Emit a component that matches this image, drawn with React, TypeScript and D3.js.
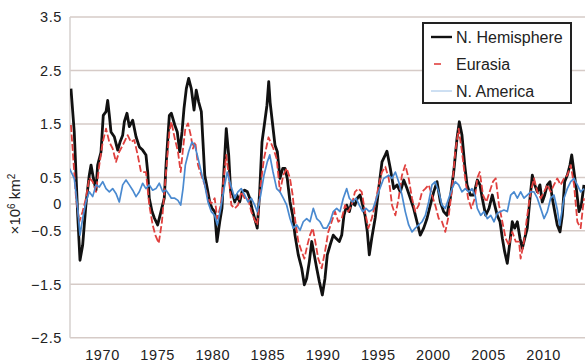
import * as d3 from "d3";

type Pt = [number, number];

const nHemisphere: Pt[] = [
  [1967.14, 2.16], [1967.44, 1.35], [1967.75, -0.2], [1967.96, -1.05], [1968.2, -0.77],
  [1968.5, 0.0], [1968.8, 0.54], [1968.96, 0.73], [1969.17, 0.49], [1969.41, 0.26],
  [1969.56, 0.73], [1969.86, 0.97], [1970.07, 1.66], [1970.32, 1.73], [1970.47, 1.94],
  [1970.62, 1.66], [1970.77, 1.35], [1971.07, 1.26], [1971.38, 1.01], [1971.59, 1.16],
  [1971.83, 1.29], [1971.98, 1.54], [1972.22, 1.7], [1972.43, 1.45], [1972.74, 1.57],
  [1973.04, 1.26], [1973.34, 1.07], [1973.64, 1.01], [1973.94, 0.92], [1974.1, 0.6],
  [1974.24, 0.11], [1974.49, -0.14], [1974.7, -0.26], [1975.0, -0.39], [1975.3, -0.14],
  [1975.6, 0.11], [1975.76, 0.73], [1976.06, 1.66], [1976.24, 1.7], [1976.55, 1.48],
  [1976.78, 1.35], [1977.0, 0.98], [1977.21, 1.35], [1977.39, 1.79], [1977.6, 2.16],
  [1977.81, 2.35], [1978.05, 2.16], [1978.3, 1.76], [1978.5, 2.13], [1978.72, 1.91],
  [1978.96, 1.73], [1979.11, 1.16], [1979.27, 0.54], [1979.5, 0.29], [1979.72, 0.04],
  [1979.93, -0.08], [1980.17, -0.14], [1980.38, -0.7], [1980.63, -0.33], [1980.83, -0.08],
  [1981.02, 0.67], [1981.22, 1.41], [1981.44, 0.92], [1981.62, 0.23], [1981.83, 0.17],
  [1981.99, 0.04], [1982.19, 0.17], [1982.44, 0.04], [1982.65, 0.23], [1982.89, 0.26],
  [1983.13, 0.23], [1983.35, 0.11], [1983.55, -0.08], [1983.8, -0.27], [1984.03, -0.45],
  [1984.25, 0.23], [1984.46, 1.16], [1984.71, 1.54], [1984.91, 1.85], [1985.07, 2.29],
  [1985.2, 1.9], [1985.43, 1.48], [1985.64, 1.1], [1985.85, 0.98], [1986.09, 0.48],
  [1986.34, 0.67], [1986.55, 0.67], [1986.75, 0.48], [1987.0, 0.04], [1987.24, -0.21],
  [1987.45, -0.58], [1987.75, -0.95], [1988.06, -1.2], [1988.3, -1.51], [1988.51, -1.39],
  [1988.75, -1.08], [1988.97, -0.7], [1989.2, -0.95], [1989.42, -1.2], [1989.66, -1.45],
  [1989.93, -1.7], [1990.17, -1.39], [1990.38, -0.95], [1990.63, -0.77], [1990.92, -0.58],
  [1991.17, -0.64], [1991.47, -0.7], [1991.69, -0.58], [1991.89, -0.21], [1992.14, -0.02],
  [1992.38, -0.14], [1992.59, 0.04], [1992.89, -0.02], [1993.1, 0.11], [1993.35, 0.17],
  [1993.59, -0.02], [1993.8, -0.21], [1994.01, -0.52], [1994.19, -0.95], [1994.41, -0.64],
  [1994.73, -0.25], [1995.04, 0.29], [1995.34, 0.79], [1995.64, 0.92], [1995.79, 0.99],
  [1996.09, 0.67], [1996.4, 0.29], [1996.7, 0.36], [1997.0, 0.23], [1997.31, 0.45],
  [1997.61, 0.29], [1997.91, 0.11], [1998.21, -0.08], [1998.51, -0.33], [1998.81, -0.58],
  [1999.12, -0.45], [1999.42, -0.27], [1999.72, -0.02], [2000.03, 0.23], [2000.33, 0.42],
  [2000.63, 0.04], [2000.93, -0.14], [2001.23, -0.21], [2001.53, 0.11], [2001.84, 0.6],
  [2002.14, 1.23], [2002.35, 1.54], [2002.59, 1.29], [2002.84, 0.73], [2003.05, 0.36],
  [2003.35, 0.17], [2003.65, 0.17], [2003.98, 0.45], [2004.22, 0.36], [2004.43, 0.11],
  [2004.74, -0.21], [2005.04, -0.08], [2005.34, 0.17], [2005.56, -0.02], [2005.79, -0.21],
  [2006.04, -0.33], [2006.25, -0.64], [2006.46, -0.89], [2006.7, -1.11], [2006.94, -0.7],
  [2007.15, -0.33], [2007.37, -0.45], [2007.61, -0.33], [2007.85, -0.64], [2008.06, -0.83],
  [2008.28, -0.64], [2008.51, -0.45], [2008.76, 0.11], [2008.97, 0.54], [2009.18, 0.36],
  [2009.42, 0.23], [2009.66, 0.36], [2009.87, 0.04], [2010.09, 0.17], [2010.33, 0.36],
  [2010.57, 0.42], [2010.78, 0.11], [2011.0, -0.14], [2011.23, -0.39], [2011.48, -0.52],
  [2011.69, -0.21], [2011.9, 0.42], [2012.14, 0.54], [2012.38, 0.73], [2012.54, 0.92],
  [2012.75, 0.6], [2012.99, 0.23], [2013.2, -0.14], [2013.41, -0.02], [2013.65, 0.36],
];

const eurasia: Pt[] = [
  [1967.14, 1.48], [1967.6, 0.11], [1967.9, -0.33], [1968.2, -0.14], [1968.5, 0.11],
  [1968.8, 0.49], [1969.11, 0.42], [1969.41, 0.23], [1969.71, 0.73], [1970.02, 1.16],
  [1970.32, 1.41], [1970.62, 1.16], [1970.92, 1.04], [1971.22, 0.79], [1971.52, 0.98],
  [1971.83, 1.1], [1972.28, 1.29], [1972.58, 1.16], [1972.88, 1.2], [1973.19, 0.92],
  [1973.49, 0.6], [1973.94, 0.6], [1974.24, -0.02], [1974.55, -0.39], [1974.79, -0.58],
  [1975.1, -0.73], [1975.39, -0.33], [1975.69, 0.42], [1976.06, 1.35], [1976.24, 1.54],
  [1976.55, 1.23], [1976.84, 0.98], [1977.09, 0.6], [1977.3, 1.04], [1977.51, 1.41],
  [1977.75, 1.51], [1978.0, 1.29], [1978.2, 1.04], [1978.41, 1.16], [1978.66, 0.73],
  [1978.96, 0.54], [1979.27, 0.36], [1979.56, 0.11], [1979.86, 0.01], [1980.17, 0.11],
  [1980.41, -0.27], [1980.72, -0.02], [1981.02, 0.54], [1981.22, 0.92], [1981.44, 0.54],
  [1981.68, -0.02], [1981.99, -0.08], [1982.28, -0.02], [1982.58, 0.23], [1982.89, 0.11],
  [1983.19, 0.11], [1983.49, -0.14], [1983.8, -0.3], [1984.03, -0.39], [1984.34, 0.36],
  [1984.64, 0.85], [1985.05, 1.25], [1985.49, 1.04], [1985.79, 0.85], [1986.09, 0.23],
  [1986.39, 0.54], [1986.7, 0.67], [1987.0, 0.48], [1987.24, 0.17], [1987.45, -0.27],
  [1987.75, -0.7], [1988.06, -0.89], [1988.3, -1.02], [1988.57, -0.77], [1988.81, -0.58],
  [1989.06, -0.45], [1989.29, -0.7], [1989.56, -1.02], [1989.87, -1.2], [1990.17, -0.89],
  [1990.47, -0.52], [1990.78, -0.33], [1991.08, -0.14], [1991.38, -0.33], [1991.69, -0.27],
  [1991.99, -0.02], [1992.28, -0.14], [1992.59, -0.02], [1992.89, 0.23], [1993.19, 0.29],
  [1993.5, 0.23], [1993.8, -0.14], [1994.1, -0.45], [1994.41, -0.27], [1994.71, -0.02],
  [1995.04, 0.36], [1995.34, 0.6], [1995.64, 0.7], [1995.95, 0.48], [1996.25, -0.02],
  [1996.55, -0.21], [1996.85, 0.11], [1997.15, 0.54], [1997.45, 0.73], [1997.76, 0.48],
  [1998.06, 0.11], [1998.36, -0.14], [1998.67, -0.02], [1998.97, 0.23], [1999.27, 0.29],
  [1999.57, 0.36], [1999.87, 0.17], [2000.17, -0.02], [2000.48, -0.27], [2000.78, -0.33],
  [2001.08, -0.52], [2001.39, -0.21], [2001.69, 0.29], [2001.98, 0.98], [2002.29, 1.41],
  [2002.59, 0.98], [2002.84, 0.54], [2003.14, 0.11], [2003.44, -0.08], [2003.74, 0.1],
  [2004.0, 0.5], [2004.2, 0.6], [2004.5, 0.17], [2004.8, 0.04], [2005.1, 0.23],
  [2005.4, 0.42], [2005.65, 0.48], [2005.95, -0.02], [2006.25, -0.33], [2006.55, -0.64],
  [2006.85, -0.77], [2007.15, -0.52], [2007.46, -0.7], [2007.76, -0.7], [2007.91, -1.02],
  [2008.21, -0.7], [2008.51, -0.21], [2008.82, 0.23], [2009.12, 0.48], [2009.42, 0.23],
  [2009.73, 0.11], [2010.03, 0.23], [2010.33, 0.36], [2010.63, 0.23], [2010.93, 0.36],
  [2011.23, 0.48], [2011.54, 0.36], [2011.84, 0.48], [2012.14, 0.54], [2012.45, 0.73],
  [2012.75, 0.36], [2013.05, -0.33], [2013.35, -0.45], [2013.65, 0.11],
];

const nAmerica: Pt[] = [
  [1967.0, 0.67], [1967.44, 0.48], [1967.75, -0.08], [1967.96, -0.58], [1968.2, -0.27],
  [1968.5, 0.04], [1968.8, 0.23], [1969.11, 0.14], [1969.41, 0.36], [1969.71, 0.32],
  [1970.02, 0.42], [1970.32, 0.29], [1970.62, 0.23], [1970.92, 0.29], [1971.22, 0.2],
  [1971.52, 0.04], [1971.83, 0.36], [1972.13, 0.45], [1972.43, 0.36], [1972.74, 0.26],
  [1973.04, 0.14], [1973.34, 0.23], [1973.64, 0.39], [1973.94, 0.29], [1974.24, 0.36],
  [1974.55, 0.26], [1974.85, 0.29], [1975.15, 0.39], [1975.46, 0.23], [1975.76, 0.26],
  [1976.06, 0.17], [1976.24, 0.11], [1976.55, 0.11], [1976.84, 0.07], [1977.09, -0.02],
  [1977.3, 0.29], [1977.51, 0.73], [1977.81, 0.98], [1978.11, 1.16], [1978.36, 1.1],
  [1978.59, 0.92], [1978.81, 0.73], [1979.02, 0.54], [1979.27, 0.36], [1979.56, 0.04],
  [1979.86, -0.14], [1980.17, -0.21], [1980.41, -0.39], [1980.72, -0.08], [1981.02, 0.29],
  [1981.31, 0.6], [1981.62, 0.36], [1981.99, 0.11], [1982.28, 0.23], [1982.58, 0.29],
  [1982.89, 0.17], [1983.19, 0.04], [1983.49, 0.11], [1983.8, -0.02], [1984.03, -0.14],
  [1984.34, 0.17], [1984.64, 0.54], [1984.94, 0.79], [1985.16, 0.92], [1985.46, 0.6],
  [1985.79, 0.29], [1986.09, 0.23], [1986.39, 0.11], [1986.7, -0.02], [1987.0, -0.27],
  [1987.3, -0.45], [1987.61, -0.39], [1987.91, -0.49], [1988.2, -0.33], [1988.51, -0.27],
  [1988.81, -0.33], [1989.11, -0.08], [1989.42, -0.27], [1989.72, -0.33], [1990.02, -0.45],
  [1990.33, -0.45], [1990.63, -0.33], [1990.92, -0.14], [1991.23, -0.08], [1991.53, -0.14],
  [1991.83, 0.11], [1992.14, 0.29], [1992.38, 0.11], [1992.68, 0.04], [1992.98, 0.11],
  [1993.28, -0.02], [1993.59, -0.14], [1993.89, -0.08], [1994.19, -0.14], [1994.5, -0.1],
  [1994.73, 0.04], [1995.04, 0.23], [1995.49, 0.48], [1995.95, 0.54], [1996.25, 0.48],
  [1996.55, 0.6], [1996.85, 0.42], [1997.15, 0.17], [1997.45, -0.14], [1997.76, -0.39],
  [1998.06, -0.52], [1998.36, -0.45], [1998.67, -0.39], [1998.97, -0.33], [1999.27, -0.21],
  [1999.57, 0.04], [1999.87, 0.36], [2000.17, 0.42], [2000.48, 0.23], [2000.78, -0.02],
  [2001.08, -0.08], [2001.39, 0.11], [2001.69, 0.29], [2001.98, 0.42], [2002.29, 0.36],
  [2002.59, 0.23], [2002.89, 0.29], [2003.2, 0.23], [2003.5, 0.29], [2003.8, 0.15],
  [2003.98, -0.08], [2004.29, -0.21], [2004.59, -0.14], [2004.89, -0.27], [2005.2, -0.21],
  [2005.5, -0.33], [2005.79, -0.17], [2006.1, -0.14], [2006.4, -0.11], [2006.7, -0.14],
  [2007.01, 0.17], [2007.31, 0.23], [2007.61, 0.11], [2007.91, 0.23], [2008.21, 0.11],
  [2008.51, 0.17], [2008.82, 0.23], [2009.12, 0.23], [2009.42, 0.11], [2009.73, -0.08],
  [2010.03, -0.27], [2010.33, -0.14], [2010.63, 0.11], [2010.93, 0.17], [2011.23, -0.1],
  [2011.45, -0.4], [2011.84, 0.11], [2012.14, 0.29], [2012.45, 0.42], [2012.75, 0.48],
  [2013.05, 0.36], [2013.35, 0.23], [2013.65, 0.29],
];

const yTicks = [-2.5, -1.5, -0.5, 0, 0.5, 1.5, 2.5, 3.5];
const xTicks = [1970, 1975, 1980, 1985, 1990, 1995, 2000, 2005, 2010];
const legendItems = ["N. Hemisphere", "Eurasia", "N. America"];

const W = 585;
const H = 363;
const FONT = "'Liberation Sans', Arial, sans-serif";

export default function App() {
  const x = d3.scaleLinear().domain([1970, 2010]).range([102.5, 543.7]);
  const y = d3.scaleLinear().domain([-2.5, 3.5]).range([337.75, 17]);

  const line = d3
    .line<Pt>()
    .x((d) => x(d[0]))
    .y((d) => y(d[1]))
    .curve(d3.curveLinear);

  const x0 = 70;

  const series = [
    { data: nHemisphere, color: "#111111", width: 2.8, dash: "none" },
    { data: eurasia, color: "#e0403e", width: 1.8, dash: "7,2.5" },
    { data: nAmerica, color: "#4a8ad0", width: 1.7, dash: "none" },
  ];

  return (
    <svg
      width={W}
      height={H}
      style={{ position: "absolute", left: 0, top: 0, background: "#fff" }}
      fontFamily={FONT}
    >
      <defs>
        <clipPath id="plot">
          <rect x={x0} y={0} width={W - x0} height={H} />
        </clipPath>
      </defs>

      {/* gridlines */}
      {yTicks.map((t) => (
        <line
          key={t}
          x1={x0}
          x2={W}
          y1={y(t)}
          y2={y(t)}
          stroke="#d6cbc7"
          strokeWidth={1.5}
        />
      ))}
      <line x1={x0} x2={x0} y1={y(3.5)} y2={y(-2.5)} stroke="#d6d0ce" strokeWidth={1.5} />

      {/* y tick labels */}
      {yTicks.map((t) => (
        <text
          key={t}
          x={62}
          y={y(t)}
          dy="0.36em"
          textAnchor="end"
          fontSize={14.5}
          letterSpacing={0.6}
          fill="#222"
        >
          {t === 0 ? "0" : t < 0 ? `\u2212${Math.abs(t)}` : t}
        </text>
      ))}

      {/* x tick labels */}
      {xTicks.map((t) => (
        <text
          key={t}
          x={x(t)}
          y={360}
          textAnchor="middle"
          fontSize={14.5}
          letterSpacing={0.6}
          fill="#222"
        >
          {t}
        </text>
      ))}

      {/* y axis title */}
      <text
        transform={`translate(20, 204) rotate(-90)`}
        textAnchor="middle"
        fontSize={15}
        fill="#222"
      >
        ×10<tspan dy={-5} fontSize={10}>6</tspan>
        <tspan dy={5}> km</tspan>
        <tspan dy={-5} fontSize={10}>2</tspan>
      </text>

      {/* series */}
      <g clipPath="url(#plot)">
        {series.map((s, i) => (
          <path
            key={i}
            d={line(s.data) || ""}
            fill="none"
            stroke={s.color}
            strokeWidth={s.width}
            strokeDasharray={s.dash}
            strokeLinejoin="round"
          />
        ))}
      </g>

      {/* legend */}
      <g>
        <rect x={423} y={23} width={148} height={80} fill="#fff" stroke="#222" strokeWidth={2} />
        {legendItems.map((name, i) => {
          const ly = 37 + i * 27;
          const s = series[i];
          return (
            <g key={name}>
              {i === 0 && (
                <line x1={431} x2={452} y1={ly} y2={ly} stroke={s.color} strokeWidth={2.4} />
              )}
              {i === 1 && (
                <line x1={434} x2={441} y1={ly} y2={ly} stroke={s.color} strokeWidth={1.6} />
              )}
              {i === 2 && (
                <line x1={431} x2={452} y1={ly} y2={ly} stroke="#9cc0e6" strokeWidth={1} />
              )}
              <text x={456} y={ly} dy="0.36em" fontSize={16} fill="#222">
                {name}
              </text>
            </g>
          );
        })}
      </g>
    </svg>
  );
}
